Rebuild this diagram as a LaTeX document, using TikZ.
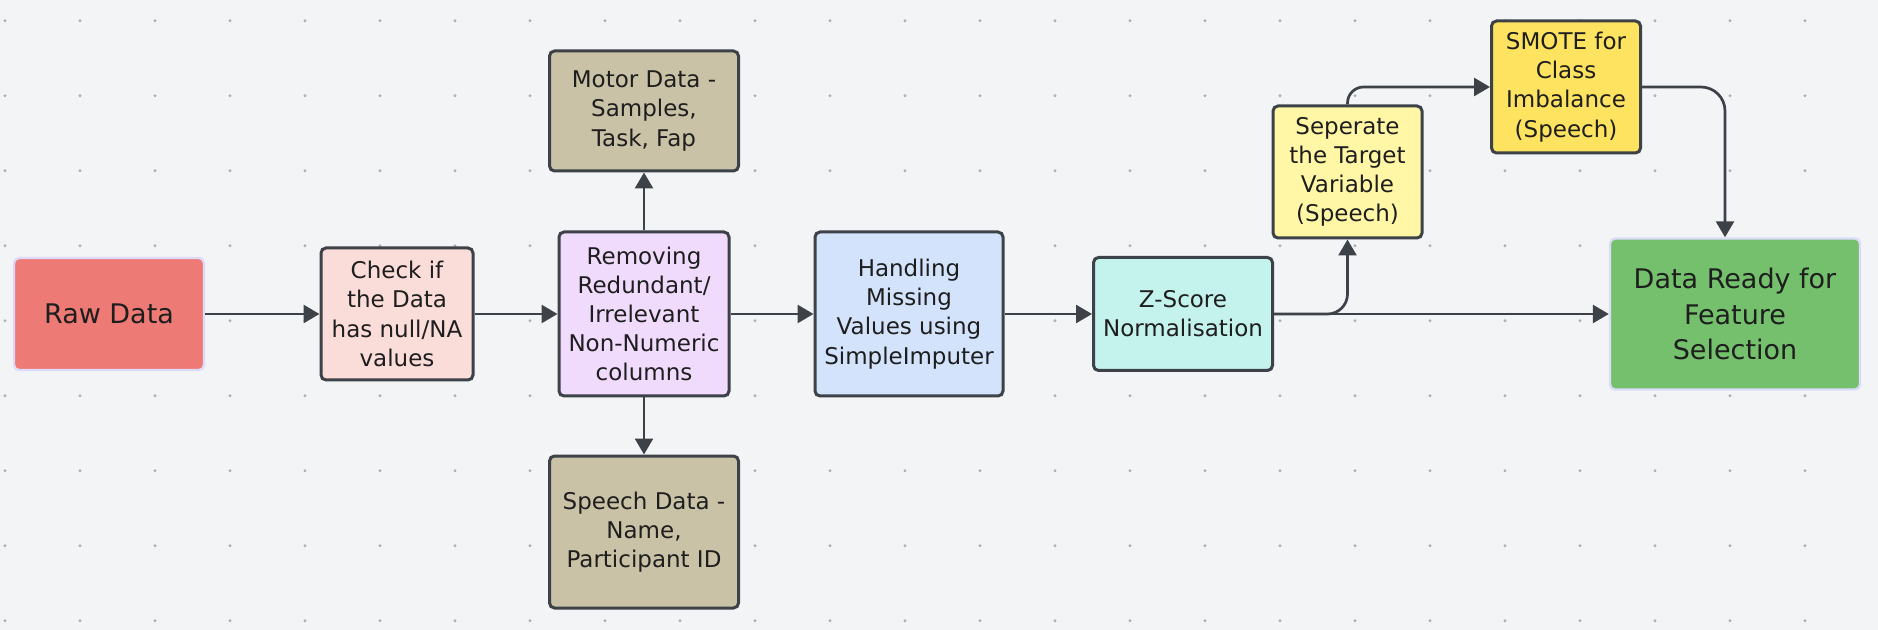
\documentclass[tikz,border=0pt]{standalone}
\usepackage{fontspec}
\setmainfont{DejaVu Sans}
\usetikzlibrary{arrows.meta}
\definecolor{bg}{HTML}{F3F4F6}
\definecolor{dotc}{HTML}{ABAFB6}
\definecolor{edge}{HTML}{3D4148}
\definecolor{txt}{HTML}{1E1E1E}
\definecolor{lav}{HTML}{DCDCFA}
\definecolor{rawc}{HTML}{EE7A75}
\definecolor{checkc}{HTML}{FADCD9}
\definecolor{remc}{HTML}{F0DBFC}
\definecolor{tanc}{HTML}{C9C2A6}
\definecolor{handc}{HTML}{D4E3FC}
\definecolor{zc}{HTML}{C4F2EC}
\definecolor{sepc}{HTML}{FFF7A6}
\definecolor{smotec}{HTML}{FDE35F}
\definecolor{readyc}{HTML}{74C06C}
\begin{document}
\begin{tikzpicture}[x=0.5pt,y=-0.5pt,
  box/.style={draw=edge, line width=1.5pt, rounded corners=2.5pt, align=center,
    inner sep=0pt, text=txt, font=\fontsize{11.5}{14.6}\selectfont},
  bigbox/.style={box, draw=lav, line width=1.2pt, font=\fontsize{13.5}{17.8}\selectfont},
  conn/.style={draw=edge, line width=1.35pt, -{Triangle[length=8pt,width=9pt]}},
]
\fill[bg] (0,0) rectangle (1878,630);
\useasboundingbox (0,0) rectangle (1878,630);
\foreach \i in {0,...,25}{
  \foreach \j in {0,...,8}{
    \fill[dotc] ({5+75*\i},{20.7+75*\j}) circle (0.8pt);
  }
}
\node[bigbox, fill=rawc, minimum width=95pt, minimum height=56pt] (raw) at (109,314) {Raw Data};
\node[box, fill=checkc, minimum width=76pt, minimum height=66pt] (check) at (397,314) {Check if\\the Data\\has null/NA\\values};
\node[box, fill=remc, minimum width=85pt, minimum height=82pt] (rem) at (644,314) {Removing\\Redundant/\\Irrelevant\\Non-Numeric\\columns};
\node[box, fill=tanc, minimum width=94.5pt, minimum height=60pt] (motor) at (644,111) {Motor Data -\\Samples,\\Task, Fap};
\node[box, fill=tanc, minimum width=94.5pt, minimum height=76pt] (speech) at (644,532) {Speech Data -\\Name,\\Participant ID};
\node[box, fill=handc, minimum width=94pt, minimum height=82pt] (hand) at (909,314) {Handling\\Missing\\Values using\\SimpleImputer};
\node[box, fill=zc, minimum width=89.5pt, minimum height=56.5pt] (z) at (1183,314) {Z-Score\\Normalisation};
\node[box, fill=sepc, minimum width=74.5pt, minimum height=66pt] (sep) at (1347.5,172) {Seperate\\the Target\\Variable\\(Speech)};
\node[box, fill=smotec, minimum width=74.5pt, minimum height=66pt] (smote) at (1566,87) {SMOTE for\\Class\\Imbalance\\(Speech)};
\node[bigbox, fill=readyc, minimum width=125pt, minimum height=75.5pt] (ready) at (1735,314) {Data Ready for\\Feature\\Selection};
\coordinate (readyin) at ([xshift=-5pt]ready.north);

\draw[conn] (raw.east) -- (check.west);
\draw[conn] (check.east) -- (rem.west);
\draw[conn] (rem.north) -- (motor.south);
\draw[conn] (rem.south) -- (speech.north);
\draw[conn] (rem.east) -- (hand.west);
\draw[conn] (hand.east) -- (z.west);
\draw[conn] (z.east) -- (ready.west);
\draw[conn, rounded corners=10pt] (z.east) -| (sep.south);
\draw[conn, rounded corners=8pt] (sep.north) |- (smote.west);
\draw[conn, rounded corners=12pt] (smote.east) -| (readyin);
\end{tikzpicture}
\end{document}
